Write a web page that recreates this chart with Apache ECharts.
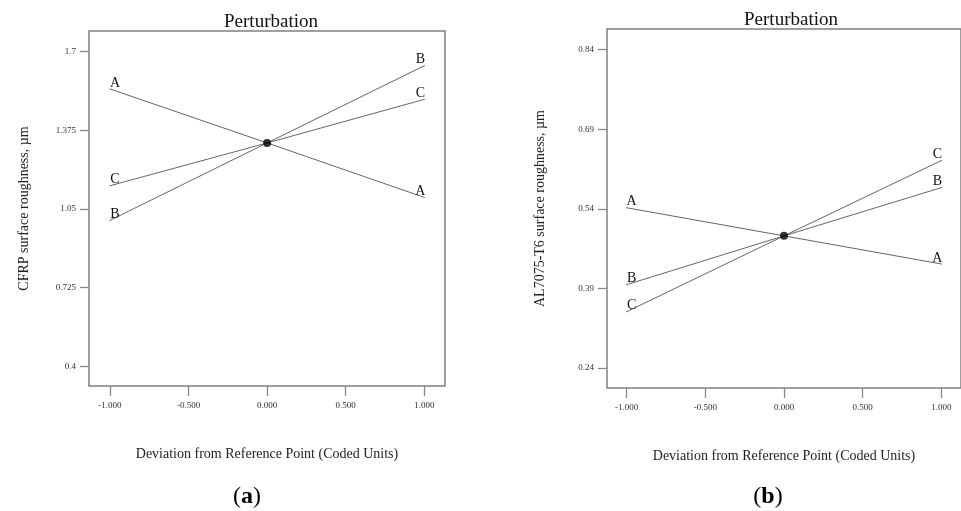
<!DOCTYPE html>
<html>
<head>
<meta charset="utf-8">
<script src="https://cdn.jsdelivr.net/npm/echarts@6/dist/echarts.min.js"></script>
<style>html,body{margin:0;padding:0;background:#fff}#c{width:961px;height:511px}</style>
</head>
<body>
<div id="c"></div>
<script>
// ---- data ----
var xVals = [-1, 0, 1];
var xTicks = [-1, -0.5, 0, 0.5, 1];
var cfrpTicks = [0.4, 0.725, 1.05, 1.375, 1.7];
var alTicks = [0.24, 0.39, 0.54, 0.69, 0.84];
var cfrpA = [1.546, 1.323, 1.098];
var cfrpB = [1.003, 1.323, 1.642];
var cfrpC = [1.146, 1.323, 1.503];
var cfrpCenter = 1.323;
var alA = [0.542, 0.489, 0.436];
var alB = [0.397, 0.489, 0.580];
var alC = [0.346, 0.489, 0.631];
var alCenter = 0.489;
var factorNames = ['A', 'B', 'C'];
var titleText = 'Perturbation';
var xName = 'Deviation from Reference Point (Coded Units)';
var yNames = ['CFRP surface roughness, \u00b5m', 'AL7075-T6 surface roughness, \u00b5m'];
var panelLabels = ['a', 'b'];

// ---- chart ----
var serif = '"Liberation Serif", "Times New Roman", serif';
var chart = echarts.init(document.getElementById('c'), null, {renderer: 'canvas'});

function pairs(ys) { return xVals.map(function (x, i) { return [x, ys[i]]; }); }

function lineSeries(name, ys, gi) {
  return {
    type: 'line', name: name, xAxisIndex: gi, yAxisIndex: gi,
    data: pairs(ys), showSymbol: true, symbol: 'circle', symbolSize: 1,
    itemStyle: {color: '#666'},
    lineStyle: {color: '#666', width: 1}, silent: true, z: 2,
    label: {
      show: true, position: 'top', distance: 0,
      fontFamily: serif, fontSize: 14, color: '#111',
      formatter: function (p) { return p.dataIndex === 1 ? '' : name; }
    },
    labelLayout: function (p) {
      return {dx: p.dataIndex === 0 ? 5 : -4, dy: 1.5};
    }
  };
}

function xAxis(gi, min, max) {
  return {
    type: 'value', gridIndex: gi, min: min, max: max,
    axisLine: {show: false, onZero: false}, splitLine: {show: false},
    axisTick: {show: true, length: 10, customValues: xTicks, lineStyle: {color: '#888', width: 1.3}},
    axisLabel: {show: true, customValues: xTicks, margin: 15, fontFamily: serif, fontSize: 9, color: '#333',
      formatter: function (v) { return v.toFixed(3); }},
    name: xName, nameLocation: 'middle', nameGap: 61,
    nameTextStyle: {fontFamily: serif, fontSize: 14, color: '#222'}
  };
}
function yAxis(gi, min, max, ticks, name, gap) {
  return {
    type: 'value', gridIndex: gi, min: min, max: max,
    axisLine: {show: false, onZero: false}, splitLine: {show: false},
    axisTick: {show: true, length: 9, customValues: ticks, lineStyle: {color: '#888', width: 1.3}},
    axisLabel: {show: true, customValues: ticks, margin: 13, fontFamily: serif, fontSize: 9, color: '#333'},
    name: name, nameLocation: 'middle', nameGap: gap, nameRotate: 90,
    nameTextStyle: {fontFamily: serif, fontSize: 14, color: '#222'}
  };
}

var option = {
  backgroundColor: '#fff',
  animation: false,
  title: [
    {text: titleText, left: 266, top: 8, textAlign: 'center',
      textStyle: {fontFamily: serif, fontSize: 19, fontWeight: 'normal', color: '#111'}},
    {text: titleText, left: 786, top: 6, textAlign: 'center',
      textStyle: {fontFamily: serif, fontSize: 19, fontWeight: 'normal', color: '#111'}}
  ],
  grid: [
    {left: 89, top: 31, width: 356, height: 355, show: true, borderColor: '#808080', borderWidth: 1.5, backgroundColor: 'transparent'},
    {left: 607, top: 29, width: 358, height: 359, show: true, borderColor: '#808080', borderWidth: 1.5, backgroundColor: 'transparent'}
  ],
  xAxis: [xAxis(0, -1.1336, 1.1317), xAxis(1, -1.1247, 1.1247)],
  yAxis: [
    yAxis(0, 0.3186, 1.7855, cfrpTicks, yNames[0], 57.5),
    yAxis(1, 0.2022, 0.879, alTicks, yNames[1], 59.5)
  ],
  series: [
    lineSeries(factorNames[0], cfrpA, 0),
    lineSeries(factorNames[1], cfrpB, 0),
    lineSeries(factorNames[2], cfrpC, 0),
    {type: 'scatter', xAxisIndex: 0, yAxisIndex: 0, data: [[0, cfrpCenter]], symbolSize: 8,
      itemStyle: {color: '#000'}, silent: true, z: 5},
    lineSeries(factorNames[0], alA, 1),
    lineSeries(factorNames[1], alB, 1),
    lineSeries(factorNames[2], alC, 1),
    {type: 'scatter', xAxisIndex: 1, yAxisIndex: 1, data: [[0, alCenter]], symbolSize: 8,
      itemStyle: {color: '#000'}, silent: true, z: 5}
  ],
  graphic: [
    {type: 'text', x: 247, y: 497, style: {
      text: '(' + '{b|' + panelLabels[0] + '})', align: 'center', verticalAlign: 'middle',
      font: '24px ' + serif, fill: '#000',
      rich: {b: {fontFamily: serif, fontSize: 24, fontWeight: 'bold', fill: '#000'}}}},
    {type: 'text', x: 768, y: 497, style: {
      text: '(' + '{b|' + panelLabels[1] + '})', align: 'center', verticalAlign: 'middle',
      font: '24px ' + serif, fill: '#000',
      rich: {b: {fontFamily: serif, fontSize: 24, fontWeight: 'bold', fill: '#000'}}}}
  ]
};
chart.setOption(option);
</script>
</body>
</html>
